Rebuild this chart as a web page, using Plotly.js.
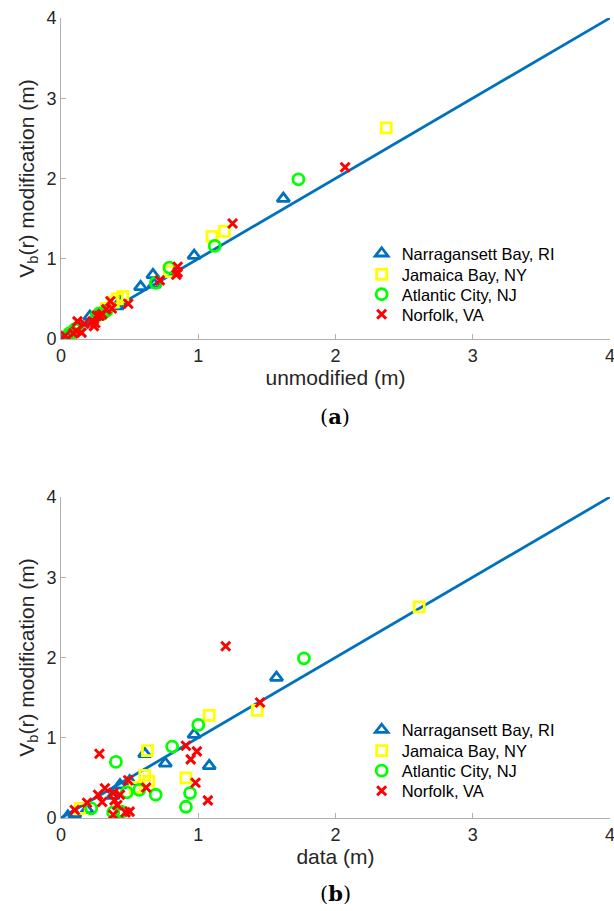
<!DOCTYPE html>
<html>
<head>
<meta charset="utf-8">
<script src="https://cdn.plot.ly/plotly-3.0.1.min.js"></script>
<style>html,body{margin:0;padding:0;background:#fff;}#chart{width:614px;height:911px;}</style>
</head>
<body>
<div id="chart"></div>
<script>
// Narragansett Bay, RI
const riMod     = [1.75, 1.04, 0.80, 0.68, 0.65, 0.46, 0.41, 0.28, 0.10, 0.05, 0.02];
const riUnmod   = [1.62, 0.97, 0.67, 0.68, 0.58, 0.43, 0.41, 0.21, 0.08, 0.05, 0.03];
const riData    = [1.57, 0.97, 0.61, 0.76, 1.08, 0.50, 0.43, 0.38, 0.19, 0.10, 0.05];
// Jamaica Bay, NY
const nyMod     = [2.63, 1.34, 1.28, 0.84, 0.53, 0.50, 0.46, 0.38, 0.12];
const nyUnmod   = [2.37, 1.19, 1.10, 0.79, 0.45, 0.41, 0.38, 0.33, 0.12];
const nyData    = [2.61, 1.43, 1.08, 0.63, 0.61, 0.91, 0.64, 0.54, 0.14];
// Atlantic City, NJ
const njMod     = [1.99, 1.16, 0.89, 0.70, 0.35, 0.32, 0.31, 0.29, 0.14, 0.12, 0.08, 0.07];
const njUnmod   = [1.73, 1.12, 0.79, 0.69, 0.33, 0.28, 0.30, 0.26, 0.12, 0.10, 0.08, 0.06];
const njData    = [1.77, 1.00, 0.81, 0.40, 0.57, 0.48, 0.94, 0.69, 0.91, 0.22, 0.44, 0.38];
// Norfolk, VA
const vaMod     = [2.14, 1.44, 0.90, 0.83, 0.80, 0.73, 0.47, 0.44, 0.38, 0.37, 0.31, 0.29, 0.29, 0.22, 0.22, 0.20, 0.19, 0.16, 0.10, 0.08, 0.07, 0.04];
const vaUnmod   = [2.07, 1.25, 0.85, 0.85, 0.84, 0.72, 0.36, 0.49, 0.37, 0.33, 0.30, 0.26, 0.28, 0.23, 0.12, 0.25, 0.17, 0.24, 0.11, 0.15, 0.09, 0.03];
const vaData    = [1.20, 1.45, 0.91, 0.99, 0.28, 0.945, 0.49, 0.98, 0.62, 0.32, 0.38, 0.27, 0.43, 1.07, 0.39, 0.30, 0.19, 0.41, 0.10, 0.50, 0.47, 0.38];

const siteNames = ['Narragansett Bay, RI', 'Jamaica Bay, NY', 'Atlantic City, NJ', 'Norfolk, VA'];
const lineX = [0, 4];
const lineY = [0, 4];
const tickVals = [0, 1, 2, 3, 4];
const tickText = ['0', '1', '2', '3', '4'];

const styles = [
  {symbol: 'triangle-up-open', color: '#0072BD', size: 11, width: 2.8},
  {symbol: 'square-open', color: '#FFFF00', size: 10, width: 2.8},
  {symbol: 'circle-open', color: '#00FF00', size: 11, width: 2.8},
  {symbol: 'x-thin-open', color: '#FF0000', size: 9, width: 3}
];
const mods = [riMod, nyMod, njMod, vaMod];
const unmods = [riUnmod, nyUnmod, njUnmod, vaUnmod];
const datas = [riData, nyData, njData, vaData];

const traces = [];
traces.push({x: lineX, y: lineY, mode: 'lines', xaxis: 'x', yaxis: 'y', showlegend: false,
  line: {color: '#0072BD', width: 2.8}, hoverinfo: 'skip'});
traces.push({x: lineX, y: lineY, mode: 'lines', xaxis: 'x2', yaxis: 'y2', showlegend: false,
  line: {color: '#0072BD', width: 2.8}, hoverinfo: 'skip'});

const legendCommon = {
  font: {family: 'Liberation Sans, Arial, sans-serif', size: 16.5, color: '#000'},
  bgcolor: 'rgba(255,255,255,0)', borderwidth: 0, itemwidth: 30, tracegroupgap: 0,
  xanchor: 'left', yanchor: 'middle', itemclick: false
};
const legendX = 0.589;
const topRows = [253.5, 274.5, 294.5, 314.5];
const rowOffset = 476.5;
const legendDefs = {};

for (let i = 0; i < 4; i++) {
  const s = styles[i];
  const mk = {symbol: s.symbol, size: s.size, color: s.color, line: {color: s.color, width: s.width}};
  const lTop = i === 0 ? 'legend' : 'legend' + (i + 1);
  const lBot = 'legend' + (i + 5);
  legendDefs[lTop] = Object.assign({x: legendX, y: 1 - topRows[i] / 911}, legendCommon);
  legendDefs[lBot] = Object.assign({x: legendX, y: 1 - (topRows[i] + rowOffset) / 911}, legendCommon);
  traces.push({x: unmods[i], y: mods[i], mode: 'markers', name: siteNames[i], xaxis: 'x', yaxis: 'y',
    marker: mk, legend: lTop});
  traces.push({x: datas[i], y: mods[i], mode: 'markers', name: siteNames[i], xaxis: 'x2', yaxis: 'y2',
    marker: mk, legend: lBot});
}

const tickFont = {family: 'Liberation Sans, Arial, sans-serif', size: 18, color: '#262626'};
const titleFont = {family: 'Liberation Sans, Arial, sans-serif', size: 21, color: '#262626'};
function axisCommon(extra) {
  return Object.assign({
    range: [0, 4], tickvals: tickVals, ticktext: tickText, ticks: 'inside', ticklen: 5,
    tickcolor: '#b0b0b0', tickwidth: 1, showline: true, linecolor: '#b0b0b0', linewidth: 1,
    showgrid: false, zeroline: false, mirror: false, tickfont: tickFont, automargin: false,
    ticklabeloverflow: 'allow'
  }, extra);
}

const capFont = {family: 'DejaVu Serif, Liberation Serif, serif', size: 21, color: '#000'};
const layout = Object.assign({
  width: 614, height: 911,
  margin: {l: 0, r: 0, t: 0, b: 0},
  paper_bgcolor: '#fff', plot_bgcolor: '#fff',
  showlegend: true,
  xaxis: axisCommon({domain: [0.09935, 0.99349], anchor: 'y',
    title: {text: 'unmodified (m)', font: titleFont, standoff: 4}}),
  yaxis: axisCommon({domain: [0.62788, 0.98024], anchor: 'x',
    title: {text: 'V<sub>b</sub>(r) modification (m)', font: titleFont, standoff: 6}}),
  xaxis2: axisCommon({domain: [0.09935, 0.99349], anchor: 'y2',
    title: {text: 'data (m)', font: titleFont, standoff: 4}}),
  yaxis2: axisCommon({domain: [0.10209, 0.45445], anchor: 'x2',
    title: {text: 'V<sub>b</sub>(r) modification (m)', font: titleFont, standoff: 6}}),
  annotations: [
    {text: '(<b>a</b>)', x: 0.546, y: 1 - 416/911, xref: 'paper', yref: 'paper', showarrow: false,
      xanchor: 'center', yanchor: 'middle', font: capFont},
    {text: '(<b>b</b>)', x: 0.546, y: 1 - 893/911, xref: 'paper', yref: 'paper', showarrow: false,
      xanchor: 'center', yanchor: 'middle', font: capFont}
  ]
}, legendDefs);

Plotly.newPlot('chart', traces, layout, {staticPlot: true, displayModeBar: false});
</script>
</body>
</html>
